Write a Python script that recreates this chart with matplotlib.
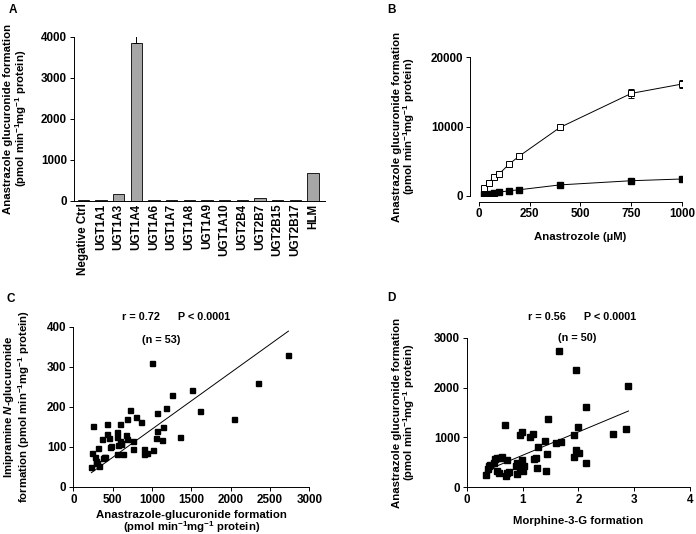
import numpy as np
import matplotlib
matplotlib.use("Agg")
import matplotlib.pyplot as plt

plt.rcParams['font.family'] = ['Liberation Sans', 'DejaVu Sans']
plt.rcParams['font.weight'] = 'bold'
plt.rcParams['axes.labelweight'] = 'bold'
plt.rcParams['font.size'] = 8.4
plt.rcParams['mathtext.fontset'] = 'custom'
plt.rcParams['mathtext.rm'] = 'Liberation Sans:bold'
plt.rcParams['mathtext.it'] = 'Liberation Sans:italic:bold'
plt.rcParams['mathtext.bf'] = 'Liberation Sans:bold'
plt.rcParams['axes.linewidth'] = 0.7
plt.rcParams['xtick.major.width'] = 0.7
plt.rcParams['ytick.major.width'] = 0.7
plt.rcParams['xtick.major.size'] = 3
plt.rcParams['ytick.major.size'] = 3

# ---------- data ----------
# panel A
ugt_names = ["Negative Ctrl", "UGT1A1", "UGT1A3", "UGT1A4", "UGT1A6", "UGT1A7",
             "UGT1A8", "UGT1A9", "UGT1A10", "UGT2B4", "UGT2B7", "UGT2B15",
             "UGT2B17", "HLM"]
ugt_rate = [10, 10, 155, 3850, 10, 10, 10, 10, 10, 10, 57, 10, 10, 670]
ugt_err = [0, 0, 0, 160, 0, 0, 0, 0, 0, 0, 0, 0, 0, 0]

# panel B
b_conc = [25, 50, 75, 100, 150, 200, 400, 750, 1000]
b_open = [1200, 1920, 2790, 3170, 4610, 5770, 9900, 14800, 16150]
b_open_err = [150, 150, 150, 150, 200, 200, 250, 600, 600]
b_filled = [300, 330, 380, 550, 750, 900, 1600, 2200, 2450]

# panel C
c_x = [224, 237, 254, 279, 283, 309, 321, 300, 359, 381, 402, 423, 431, 457, 465,
       482, 550, 550, 592, 550, 571, 592, 605, 626, 668, 677, 685, 723, 753, 753,
       795, 863, 897, 905, 939, 1003, 1015, 1049, 1062, 1066, 1129, 1146, 1180,
       1252, 1362, 1510, 1610, 2040, 2350, 2735, 290, 395, 610]
c_y = [49, 85, 152, 74, 60, 97, 52, 58, 120, 71, 74, 132, 156, 122, 99,
       102, 124, 137, 157, 82, 104, 114, 106, 81, 129, 170, 118, 192, 93, 114,
       175, 162, 95, 81, 84, 308, 91, 121, 183, 139, 117, 149, 197,
       228, 124, 241, 189, 169, 258, 328, 65, 75, 108]
c_fit_x = [230, 2735]
c_fit_y = [35, 389]

# panel D
d_x = [0.34, 0.41, 0.48, 0.53, 0.60, 0.63, 0.70, 0.75, 0.72, 0.53, 0.57, 0.37, 0.69,
       0.90, 0.93, 0.89, 0.98, 1.02, 0.95, 0.96, 0.98, 1.14, 1.19, 1.20, 1.23, 1.25,
       1.28, 1.41, 1.43, 1.40, 1.46, 1.60, 1.69, 1.66, 1.96, 1.93, 1.99, 1.95, 2.02,
       1.92, 2.14, 2.13, 2.62, 2.86, 2.90, 0.40, 0.88, 1.00, 0.72, 0.50]
d_y = [247, 447, 480, 580, 593, 613, 233, 313, 547, 327, 293, 373, 1247,
       267, 447, 493, 547, 427, 347, 1047, 1114, 1014, 1061, 560, 580, 380,
       814, 327, 667, 934, 1361, 880, 907, 2727, 2348, 1047, 1200, 747, 693,
       613, 493, 1614, 1061, 1161, 2034, 420, 430, 330, 290, 560]
d_fit_x = [0.33, 2.90]
d_fit_y = [330, 1530]

rate_label = "Anastrazole glucuronide formation\n(pmol min$^{-1}$mg$^{-1}$ protein)"
LBL = 8.2
LSP = 0.95

fig = plt.figure(figsize=(6.96, 5.34), dpi=100)


def style(ax):
    ax.spines['top'].set_visible(False)
    ax.spines['right'].set_visible(False)
    ax.tick_params(direction='out', pad=2)


# ---------- A ----------
axA = fig.add_axes([0.1063, 0.6242, 0.3607, 0.3071])
pos = np.arange(len(ugt_names))
axA.bar(pos, ugt_rate, width=0.65, color='#a6a6a6', edgecolor='black', linewidth=0.6)
axA.errorbar(pos[3], ugt_rate[3], yerr=[[0], [ugt_err[3]]], fmt='none',
             ecolor='black', elinewidth=0.7, capsize=2.5, capthick=0.7)
axA.set_xlim(-0.53, 13.68)
axA.set_ylim(0, 4000)
axA.set_yticks([0, 1000, 2000, 3000, 4000])
axA.set_xticks(pos)
axA.set_xticklabels(ugt_names, rotation=90)
axA.tick_params(axis='x', length=0)
style(axA)
axA.set_ylabel(rate_label, fontsize=LBL, labelpad=9, linespacing=LSP)
fig.text(0.012, 0.975, "A", fontsize=8.5, fontweight='bold')

# ---------- B ----------
axB = fig.add_axes([0.6878, 0.633, 0.2925, 0.2597])
axB.plot(b_conc, b_open, color='black', linewidth=0.7)
axB.errorbar(b_conc, b_open, yerr=b_open_err, fmt='s', mfc='white', mec='black',
             ms=4.5, mew=0.7, ecolor='black', elinewidth=0.6, capsize=2, capthick=0.6)
axB.plot(b_conc, b_filled, color='black', linewidth=0.7, marker='s', ms=4.5)
axB.set_xlim(0, 1000)
axB.set_ylim(0, 20000)
axB.set_xticks([0, 250, 500, 750, 1000])
axB.set_yticks([0, 10000, 20000])
style(axB)
axB.spines['left'].set_position(('outward', 6))
axB.spines['bottom'].set_position(('outward', 4))
axB.set_xlabel("Anastrozole (\u00b5M)", fontsize=LBL, labelpad=8)
axB.set_ylabel(rate_label, fontsize=LBL, labelpad=10, linespacing=LSP)
fig.text(0.557, 0.975, "B", fontsize=8.5, fontweight='bold')

# ---------- C ----------
axC = fig.add_axes([0.1053, 0.0886, 0.3391, 0.2996])
axC.plot(c_x, c_y, 's', color='black', ms=3.6)
axC.plot(c_fit_x, c_fit_y, color='black', linewidth=0.7)
axC.set_xlim(0, 3000)
axC.set_ylim(0, 400)
axC.set_xticks([0, 500, 1000, 1500, 2000, 2500, 3000])
axC.set_yticks([0, 100, 200, 300, 400])
style(axC)
axC.set_xlabel("Anastrazole-glucuronide formation\n(pmol min$^{-1}$mg$^{-1}$ protein)",
               fontsize=LBL, labelpad=3, linespacing=LSP)
axC.set_ylabel("Imipramine $N$-glucuronide\nformation (pmol min$^{-1}$mg$^{-1}$ protein)",
               fontsize=LBL, labelpad=11, linespacing=LSP)
fig.text(0.253, 0.400, "r = 0.72      P < 0.0001", fontsize=7.8, ha='center')
fig.text(0.232, 0.357, "(n = 53)", fontsize=7.8, ha='center')
fig.text(0.010, 0.434, "C", fontsize=8.5, fontweight='bold')

# ---------- D ----------
axD = fig.add_axes([0.671, 0.0875, 0.32, 0.2801])
axD.plot(d_x, d_y, 's', color='black', ms=4.8)
axD.plot(d_fit_x, d_fit_y, color='black', linewidth=0.7)
axD.set_xlim(0, 4)
axD.set_ylim(0, 3000)
axD.set_xticks([0, 1, 2, 3, 4])
axD.set_yticks([0, 1000, 2000, 3000])
style(axD)
axD.set_xlabel("Morphine-3-G formation", fontsize=LBL, labelpad=7)
axD.set_ylabel(rate_label, fontsize=LBL, labelpad=12, linespacing=LSP)
fig.text(0.837, 0.400, "r = 0.56      P < 0.0001", fontsize=7.8, ha='center')
fig.text(0.830, 0.362, "(n = 50)", fontsize=7.8, ha='center')
fig.text(0.557, 0.437, "D", fontsize=8.5, fontweight='bold')

fig.savefig("out.png", dpi=100)
